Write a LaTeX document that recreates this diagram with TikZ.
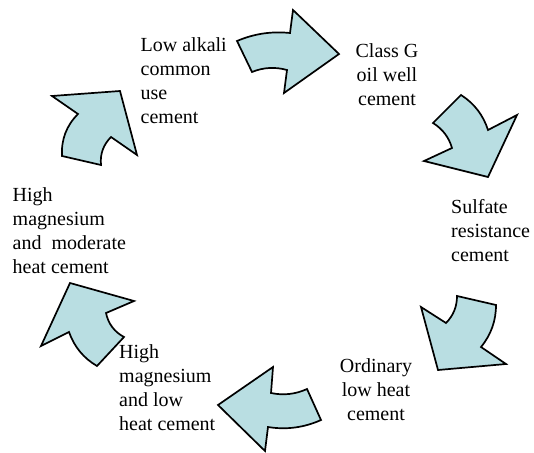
\documentclass[tikz,border=0pt]{standalone}
\usepackage{fontspec}
\setmainfont{Liberation Serif}
\definecolor{arrowfill}{RGB}{185,222,226}
\begin{document}
\begin{tikzpicture}[x=1pt,y=-1pt,
  cyclearrow/.style={draw=black, line width=1.7pt, fill=arrowfill, line join=miter},
  lbl/.style={font=\fontsize{20}{24}\selectfont, inner sep=0pt, text=black}]
\useasboundingbox (0,0) rectangle (534,452);
% labels (base anchor = baseline of the last line)
\node[lbl, anchor=base west, align=left] (lowalkali) at (140.5,123) {Low alkali\\common\\use\\cement};
\node[lbl, anchor=base, align=center] (classg) at (387,105) {Class G\\oil well\\cement};
\node[lbl, anchor=base west, align=left] (sulfate) at (451,261) {Sulfate\\resistance\\cement};
\node[lbl, anchor=base, align=center] (ordinary) at (376,420) {Ordinary\\low heat\\cement};
\node[lbl, anchor=base west, align=left] (hmlow) at (119,430) {High\\magnesium\\and low\\heat cement};
\node[lbl, anchor=base west, align=left] (hmmod) at (12.5,273) {High\\magnesium\\and\ \ moderate\\heat cement};
% arrows
\path[cyclearrow] (237,41) .. controls (254,33.7) and (271.6,31.1) .. (290,33) -- (293,10) -- (339,54) -- (284,93) -- (287,70) .. controls (275.1,66.7) and (263.4,67.3) .. (252,72) -- cycle;
\path[cyclearrow] (461,95) .. controls (474.2,103.4) and (483.2,115.1) .. (488,130) -- (517,115) -- (488,177) -- (424,161) -- (452,148) .. controls (448.9,137.3) and (442.5,128.9) .. (433,123) -- cycle;
\path[cyclearrow] (457,296) -- (496,305) .. controls (496,320.8) and (491,334.8) .. (481,347) -- (506,364) -- (438,370) -- (421,307) -- (446,323) .. controls (453.4,315.5) and (457,306.5) .. (457,296) -- cycle;
\path[cyclearrow] (218,405) -- (273,367) -- (271,393) .. controls (283.4,395.6) and (295.4,394.3) .. (307,389) -- (321,420) .. controls (304,427.6) and (286.4,430) .. (268,427) -- (265,451) -- cycle;
\path[cyclearrow] (70,283) -- (134,301) -- (106,313) .. controls (108.3,323.8) and (114.3,331.8) .. (124,337) -- (97,366) .. controls (83.5,358.1) and (74.2,346.7) .. (69,332) -- (41,346) -- cycle;
\path[cyclearrow] (120,91) -- (137,155) -- (111,137) .. controls (103.3,144.8) and (99.9,154.1) .. (101,165) -- (62,156) .. controls (61.1,139.6) and (66.4,125.6) .. (78,114) -- (52,96) -- cycle;
\end{tikzpicture}
\end{document}
